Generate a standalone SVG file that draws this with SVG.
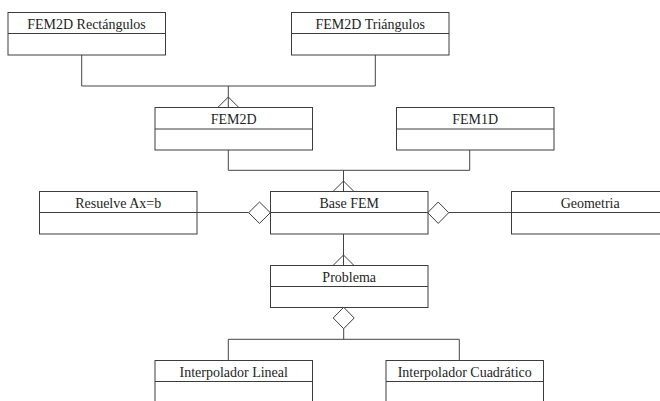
<svg xmlns="http://www.w3.org/2000/svg" width="660" height="401" viewBox="0 0 660 401" font-family="'Liberation Serif', 'Times New Roman', serif">
<style>
.box{fill:#fff;stroke:#3c3c3c;stroke-width:1}
.div{stroke:#3c3c3c;stroke-width:1}
.lbl{font-family:'Liberation Serif','Times New Roman',serif;font-size:14px;fill:#1e1e1e;text-anchor:middle}
.con{fill:none;stroke:#444;stroke-width:1}
.head{fill:#fff;stroke:#3c3c3c;stroke-width:1}
</style>
<rect width="660" height="401" fill="#fff"/>
<g id="connectors">
<path class="con" d="M81.7,55 V86 H375.3 V55"/>
<path class="con" d="M228.3,86 V107.5"/>
<path class="con" d="M228.3,150 V170.3 H469.7 V150"/>
<path class="con" d="M343.5,170.3 V191.5"/>
<path class="con" d="M343.5,234 V265.5"/>
<path class="con" d="M197,212.5 H248.7"/>
<path class="con" d="M448.7,212.5 H511.5"/>
<path class="con" d="M343.7,328.7 V339.3"/>
<path class="con" d="M228.3,360.5 V339.3 H459.3 V360.5"/>
<path class="head" d="M217.8,107.5 L228.3,97 L238.8,107.5"/>
<path class="con" d="M228.3,97 V107.5"/>
<path class="head" d="M333,191.5 L343.5,181 L354,191.5"/>
<path class="con" d="M343.5,181 V191.5"/>
<path class="head" d="M333,265.5 L343.5,255 L354,265.5"/>
<path class="con" d="M343.5,255 V265.5"/>
<path class="head" d="M248.7,212.7 L259.5,202 L270.3,212.7 L259.5,223.4 Z"/>
<path class="head" d="M427.7,212.7 L438.2,202 L448.7,212.7 L438.2,223.4 Z"/>
<path class="head" d="M343.7,307.3 L354.2,318 L343.7,328.7 L333.2,318 Z"/>
</g>
<g id="fem2d-rect">
<rect class="box" x="8" y="12.5" width="157.5" height="42.5"/>
<line class="div" x1="8" y1="33.5" x2="165.5" y2="33.5"/>
<text class="lbl" font-family="Liberation Serif, serif" x="86.5" y="29.3">FEM2D Rectángulos</text>
</g>
<g id="fem2d-tri">
<rect class="box" x="291.5" y="12.5" width="157.5" height="42.5"/>
<line class="div" x1="291.5" y1="33.5" x2="449" y2="33.5"/>
<text class="lbl" x="370.2" y="29.3">FEM2D Triángulos</text>
</g>
<g id="fem2d">
<rect class="box" x="155" y="107.5" width="157.5" height="42.5"/>
<line class="div" x1="155" y1="129" x2="312.5" y2="129"/>
<text class="lbl" x="233.7" y="124.3">FEM2D</text>
</g>
<g id="fem1d">
<rect class="box" x="396.5" y="107.5" width="157.5" height="42.5"/>
<line class="div" x1="396.5" y1="129" x2="554" y2="129"/>
<text class="lbl" x="475.2" y="124.3">FEM1D</text>
</g>
<g id="resuelve">
<rect class="box" x="39.5" y="191.5" width="157.5" height="42.5"/>
<line class="div" x1="39.5" y1="212.5" x2="197" y2="212.5"/>
<text class="lbl" x="118.2" y="208.3">Resuelve Ax=b</text>
</g>
<g id="base-fem">
<rect class="box" x="270.5" y="191.5" width="157.5" height="42.5"/>
<line class="div" x1="270.5" y1="212.5" x2="428" y2="212.5"/>
<text class="lbl" x="349.2" y="208.3">Base FEM</text>
</g>
<g id="geometria">
<rect class="box" x="511.5" y="191.5" width="157.5" height="42.5"/>
<line class="div" x1="511.5" y1="212.5" x2="669" y2="212.5"/>
<text class="lbl" x="590.2" y="208.3">Geometria</text>
</g>
<g id="problema">
<rect class="box" x="270.5" y="265.5" width="157.5" height="42"/>
<line class="div" x1="270.5" y1="286.5" x2="428" y2="286.5"/>
<text class="lbl" x="349.2" y="282.3">Problema</text>
</g>
<g id="interp-lineal">
<rect class="box" x="155" y="360.5" width="157.5" height="42.5"/>
<line class="div" x1="155" y1="381.5" x2="312.5" y2="381.5"/>
<text class="lbl" x="233.7" y="377.3">Interpolador Lineal</text>
</g>
<g id="interp-cuad">
<rect class="box" x="386" y="360.5" width="157.5" height="42.5"/>
<line class="div" x1="386" y1="381.5" x2="543.5" y2="381.5"/>
<text class="lbl" x="464.7" y="377.3">Interpolador Cuadrático</text>
</g>
</svg>
